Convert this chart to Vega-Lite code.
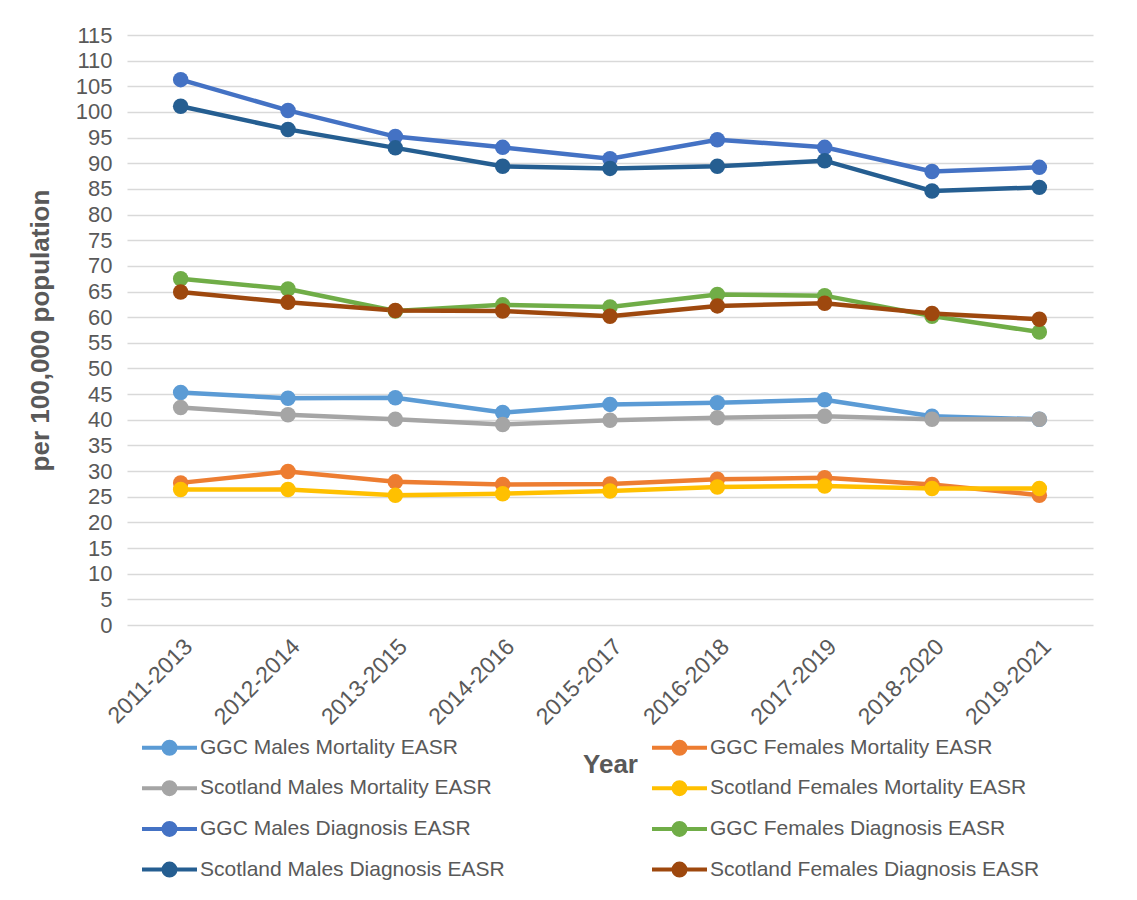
{
  "$schema": "https://vega.github.io/schema/vega-lite/v6.json",
  "width": 966,
  "height": 590,
  "autosize": "none",
  "padding": {"left": 127, "top": 35, "right": 44, "bottom": 275},
  "background": "white",
  "config": {
    "view": {"stroke": null},
    "font": "Liberation Sans"
  },
  "data": {
    "values": [
      {"series": "GGC Males Mortality EASR", "period": "2011-2013", "value": 45.3},
      {"series": "GGC Males Mortality EASR", "period": "2012-2014", "value": 44.2},
      {"series": "GGC Males Mortality EASR", "period": "2013-2015", "value": 44.3},
      {"series": "GGC Males Mortality EASR", "period": "2014-2016", "value": 41.4},
      {"series": "GGC Males Mortality EASR", "period": "2015-2017", "value": 43.0},
      {"series": "GGC Males Mortality EASR", "period": "2016-2018", "value": 43.3},
      {"series": "GGC Males Mortality EASR", "period": "2017-2019", "value": 43.9},
      {"series": "GGC Males Mortality EASR", "period": "2018-2020", "value": 40.7},
      {"series": "GGC Males Mortality EASR", "period": "2019-2021", "value": 40.1},
      {"series": "GGC Females Mortality EASR", "period": "2011-2013", "value": 27.7},
      {"series": "GGC Females Mortality EASR", "period": "2012-2014", "value": 29.9},
      {"series": "GGC Females Mortality EASR", "period": "2013-2015", "value": 27.9},
      {"series": "GGC Females Mortality EASR", "period": "2014-2016", "value": 27.4},
      {"series": "GGC Females Mortality EASR", "period": "2015-2017", "value": 27.5},
      {"series": "GGC Females Mortality EASR", "period": "2016-2018", "value": 28.4},
      {"series": "GGC Females Mortality EASR", "period": "2017-2019", "value": 28.7},
      {"series": "GGC Females Mortality EASR", "period": "2018-2020", "value": 27.4},
      {"series": "GGC Females Mortality EASR", "period": "2019-2021", "value": 25.3},
      {"series": "Scotland Males Mortality EASR", "period": "2011-2013", "value": 42.4},
      {"series": "Scotland Males Mortality EASR", "period": "2012-2014", "value": 41.0},
      {"series": "Scotland Males Mortality EASR", "period": "2013-2015", "value": 40.1},
      {"series": "Scotland Males Mortality EASR", "period": "2014-2016", "value": 39.1},
      {"series": "Scotland Males Mortality EASR", "period": "2015-2017", "value": 39.9},
      {"series": "Scotland Males Mortality EASR", "period": "2016-2018", "value": 40.4},
      {"series": "Scotland Males Mortality EASR", "period": "2017-2019", "value": 40.7},
      {"series": "Scotland Males Mortality EASR", "period": "2018-2020", "value": 40.1},
      {"series": "Scotland Males Mortality EASR", "period": "2019-2021", "value": 40.1},
      {"series": "Scotland Females Mortality EASR", "period": "2011-2013", "value": 26.4},
      {"series": "Scotland Females Mortality EASR", "period": "2012-2014", "value": 26.4},
      {"series": "Scotland Females Mortality EASR", "period": "2013-2015", "value": 25.3},
      {"series": "Scotland Females Mortality EASR", "period": "2014-2016", "value": 25.6},
      {"series": "Scotland Females Mortality EASR", "period": "2015-2017", "value": 26.1},
      {"series": "Scotland Females Mortality EASR", "period": "2016-2018", "value": 26.9},
      {"series": "Scotland Females Mortality EASR", "period": "2017-2019", "value": 27.1},
      {"series": "Scotland Females Mortality EASR", "period": "2018-2020", "value": 26.6},
      {"series": "Scotland Females Mortality EASR", "period": "2019-2021", "value": 26.6},
      {"series": "GGC Males Diagnosis EASR", "period": "2011-2013", "value": 106.3},
      {"series": "GGC Males Diagnosis EASR", "period": "2012-2014", "value": 100.3},
      {"series": "GGC Males Diagnosis EASR", "period": "2013-2015", "value": 95.2},
      {"series": "GGC Males Diagnosis EASR", "period": "2014-2016", "value": 93.1},
      {"series": "GGC Males Diagnosis EASR", "period": "2015-2017", "value": 90.9},
      {"series": "GGC Males Diagnosis EASR", "period": "2016-2018", "value": 94.6},
      {"series": "GGC Males Diagnosis EASR", "period": "2017-2019", "value": 93.1},
      {"series": "GGC Males Diagnosis EASR", "period": "2018-2020", "value": 88.4},
      {"series": "GGC Males Diagnosis EASR", "period": "2019-2021", "value": 89.2},
      {"series": "GGC Females Diagnosis EASR", "period": "2011-2013", "value": 67.5},
      {"series": "GGC Females Diagnosis EASR", "period": "2012-2014", "value": 65.5},
      {"series": "GGC Females Diagnosis EASR", "period": "2013-2015", "value": 61.2},
      {"series": "GGC Females Diagnosis EASR", "period": "2014-2016", "value": 62.4},
      {"series": "GGC Females Diagnosis EASR", "period": "2015-2017", "value": 62.0},
      {"series": "GGC Females Diagnosis EASR", "period": "2016-2018", "value": 64.4},
      {"series": "GGC Females Diagnosis EASR", "period": "2017-2019", "value": 64.2},
      {"series": "GGC Females Diagnosis EASR", "period": "2018-2020", "value": 60.2},
      {"series": "GGC Females Diagnosis EASR", "period": "2019-2021", "value": 57.1},
      {"series": "Scotland Males Diagnosis EASR", "period": "2011-2013", "value": 101.1},
      {"series": "Scotland Males Diagnosis EASR", "period": "2012-2014", "value": 96.6},
      {"series": "Scotland Males Diagnosis EASR", "period": "2013-2015", "value": 93.0},
      {"series": "Scotland Males Diagnosis EASR", "period": "2014-2016", "value": 89.4},
      {"series": "Scotland Males Diagnosis EASR", "period": "2015-2017", "value": 89.0},
      {"series": "Scotland Males Diagnosis EASR", "period": "2016-2018", "value": 89.4},
      {"series": "Scotland Males Diagnosis EASR", "period": "2017-2019", "value": 90.5},
      {"series": "Scotland Males Diagnosis EASR", "period": "2018-2020", "value": 84.6},
      {"series": "Scotland Males Diagnosis EASR", "period": "2019-2021", "value": 85.3},
      {"series": "Scotland Females  Diagnosis EASR", "period": "2011-2013", "value": 64.9},
      {"series": "Scotland Females  Diagnosis EASR", "period": "2012-2014", "value": 62.9},
      {"series": "Scotland Females  Diagnosis EASR", "period": "2013-2015", "value": 61.3},
      {"series": "Scotland Females  Diagnosis EASR", "period": "2014-2016", "value": 61.2},
      {"series": "Scotland Females  Diagnosis EASR", "period": "2015-2017", "value": 60.2},
      {"series": "Scotland Females  Diagnosis EASR", "period": "2016-2018", "value": 62.2},
      {"series": "Scotland Females  Diagnosis EASR", "period": "2017-2019", "value": 62.7},
      {"series": "Scotland Females  Diagnosis EASR", "period": "2018-2020", "value": 60.7},
      {"series": "Scotland Females  Diagnosis EASR", "period": "2019-2021", "value": 59.6}
    ]
  },
  "encoding": {
    "x": {
      "field": "period",
      "type": "ordinal",
      "scale": {"type": "point", "padding": 0.5},
      "axis": {
        "title": "Year",
        "titleFont": "Liberation Sans",
        "titleFontSize": 26,
        "titleFontWeight": "bold",
        "titleColor": "#595959",
        "titleY": 139,
        "titleBaseline": "middle",
        "labelAngle": -45,
        "labelFontSize": 23,
        "labelColor": "#595959",
        "labelPadding": 10,
        "ticks": false,
        "domain": false,
        "grid": false
      }
    },
    "y": {
      "field": "value",
      "type": "quantitative",
      "scale": {"domain": [0, 115], "nice": false, "zero": true},
      "axis": {
        "title": "per 100,000 population",
        "titleFontSize": 26,
        "titleFontWeight": "bold",
        "titleColor": "#595959",
        "titlePadding": 22,
        "values": [0, 5, 10, 15, 20, 25, 30, 35, 40, 45, 50, 55, 60, 65, 70, 75, 80, 85, 90, 95, 100, 105, 110, 115],
        "labelFontSize": 22,
        "labelColor": "#595959",
        "labelPadding": 15,
        "ticks": false,
        "domain": false,
        "grid": true,
        "gridColor": "#D9D9D9",
        "gridWidth": 1.5
      }
    },
    "color": {
      "field": "series",
      "type": "nominal",
      "sort": null,
      "scale": {
        "domain": [
          "GGC Males Mortality EASR",
          "GGC Females Mortality EASR",
          "Scotland Males Mortality EASR",
          "Scotland Females Mortality EASR",
          "GGC Males Diagnosis EASR",
          "GGC Females Diagnosis EASR",
          "Scotland Males Diagnosis EASR",
          "Scotland Females  Diagnosis EASR"
        ],
        "range": ["#5B9BD5", "#ED7D31", "#A5A5A5", "#FFC000", "#4472C4", "#70AD47", "#255E91", "#9E480E"]
      },
      "legend": {
        "title": null,
        "orient": "none",
        "direction": "horizontal",
        "legendX": 20,
        "legendY": 690,
        "columns": 2,
        "columnPadding": 139,
        "rowPadding": 3.7,
        "symbolType": "M-1.351,0H1.351M-0.295,0A0.295,0.295,0,1,0,0.295,0A0.295,0.295,0,1,0,-0.295,0",
        "symbolSize": 1656,
        "symbolStrokeWidth": 4,
        "labelFont": "Liberation Sans",
        "labelFontSize": 21,
        "labelColor": "#595959",
        "labelOffset": 8,
        "labelLimit": 500,
        "encode": {
          "symbols": {
            "update": {
              "fill": {"scale": "color", "field": "value"},
              "stroke": {"scale": "color", "field": "value"},
              "fillOpacity": {"value": 1}
            }
          }
        }
      }
    }
  },
  "layer": [
    {
      "mark": {"type": "line", "strokeWidth": 4.5}
    },
    {
      "mark": {"type": "point", "filled": true, "size": 240, "opacity": 1}
    }
  ]
}
